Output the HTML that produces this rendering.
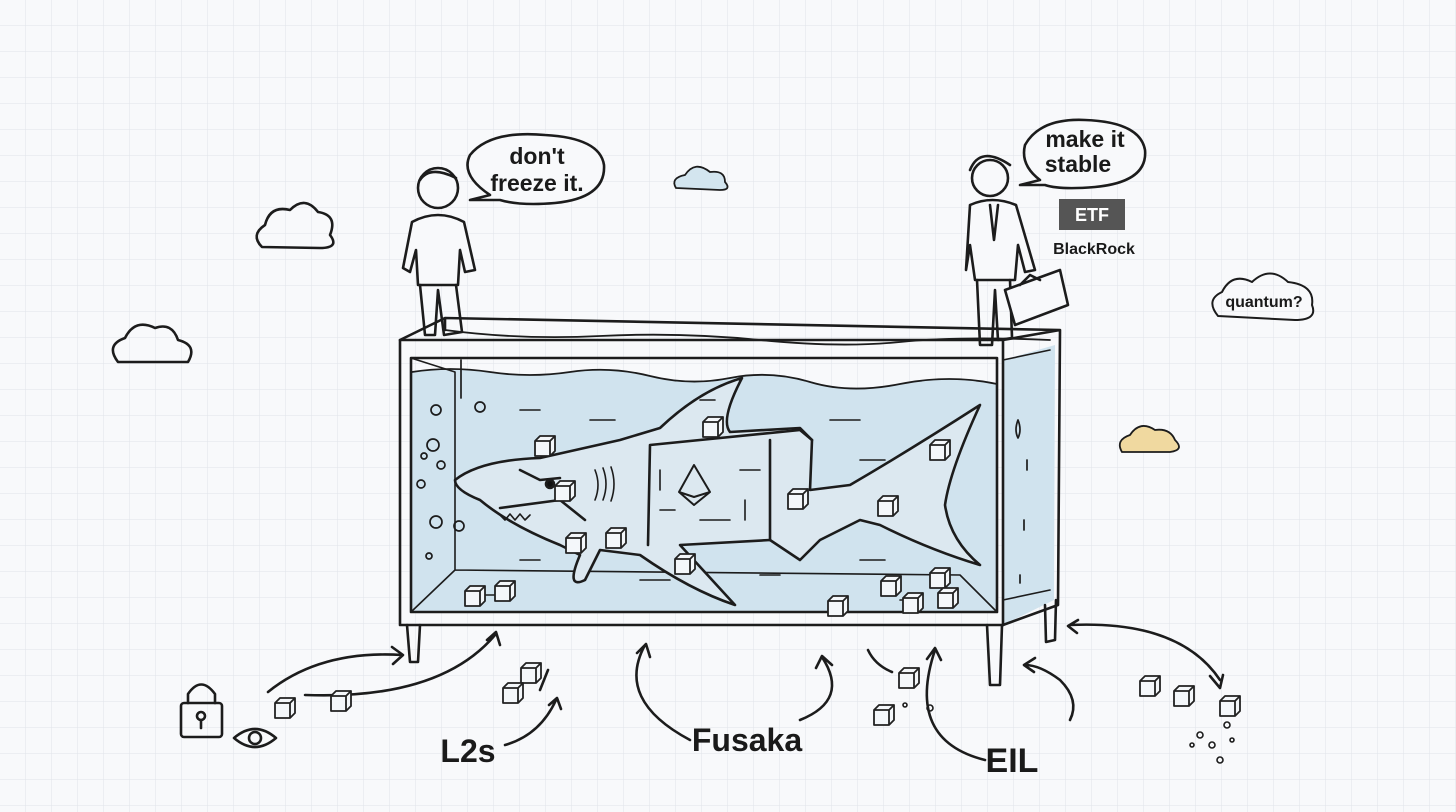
<!DOCTYPE html>
<html><head><meta charset="utf-8"><style>
html,body{margin:0;padding:0;background:#f8f9fb}
svg{display:block}
text{font-family:"Liberation Sans",sans-serif;fill:#1a1a1a}
</style></head><body>
<svg width="1456" height="812" viewBox="0 0 1456 812" xmlns="http://www.w3.org/2000/svg">
<defs>
<pattern id="g" width="26" height="26" patternUnits="userSpaceOnUse">
<path d="M26 0V26M0 26H26" stroke="#e0e4ea" stroke-width="1" fill="none"/>
</pattern>
<g id="cube"><path d="M0 5 L5 0 H20 V15 L15 20 H0 Z M0 5 H15 V20 M15 5 L20 0" fill="#f4f7fa" stroke="#222" stroke-width="1.8" stroke-linejoin="round"/></g>
</defs>
<rect width="1456" height="812" fill="#f8f9fb"/>
<rect width="1456" height="812" fill="url(#g)"/>
<g fill="none" stroke="#1c1c1c" stroke-width="2.6" stroke-linecap="round" stroke-linejoin="round">
<path d="M412 372 Q450 366 490 372 T570 372 T650 376 T730 378 T810 382 T900 384 T997 384 L997 612 L412 612 Z" fill="#d0e3ee" stroke="none"/>
<path d="M1003 360 L1055 345 L1054 600 L1003 625 Z" fill="#d0e3ee" stroke="none"/>
<rect x="400" y="340" width="603" height="285"/>
<rect x="411" y="358" width="586" height="254"/>
<path d="M400 340 L445 318 L1060 330 L1003 340 M1060 330 L1058 605 L1003 625 M445 318 L445 330"/>
<path d="M445 330 Q520 340 600 336 T760 340 T900 342 T1050 340" stroke-width="1.8"/>
<path d="M411 358 L455 372 L455 570 L411 612 M455 570 L960 575 L997 612 M1003 360 L1050 350 M1003 600 L1050 590" stroke-width="1.6"/>
<path d="M412 372 Q450 366 490 372 T570 372 T650 376 T730 378 T810 382 T900 384 T997 384" stroke-width="1.8"/>
<path d="M407 625 L410 662 L418 662 L420 625 M987 625 L990 685 L1000 685 L1002 625 M1045 605 L1046 642 L1055 640 L1056 600"/>
<g stroke-width="1.7"><circle cx="436" cy="410" r="5"/><circle cx="433" cy="445" r="6"/><circle cx="424" cy="456" r="3"/><circle cx="441" cy="465" r="4"/><circle cx="421" cy="484" r="4"/><circle cx="436" cy="522" r="6"/><circle cx="429" cy="556" r="3"/><circle cx="459" cy="526" r="5"/><circle cx="480" cy="407" r="5"/><path d="M461 360 V398"/><path d="M1018 420 q4 10 0 18 q-4 -8 0 -18 M1027 460 v10 M1024 520 v10 M1020 575 v8"/></g>
<path d="M455 480 Q480 460 540 458 L620 440 L660 428 Q700 390 742 378 Q720 420 730 432 L800 428 L812 440 L810 490 L850 485 Q910 450 980 405 Q950 470 945 505 Q950 540 980 565 Q930 550 880 525 L860 520 L820 540 L800 560 L770 540 L680 545 L735 605 Q690 590 640 555 L600 550 L585 580 Q565 590 580 555 L560 545 Q510 525 480 500 Q455 490 455 480 Z" fill="#dce8f0"/>
<path d="M650 445 L800 430 L812 440 M650 445 L648 545 M770 540 L770 440 M500 508 L560 500 L585 520 M520 470 L540 480 L560 478"/>
<path d="M694 465 L710 492 L694 505 L679 492 Z M679 492 L694 497 L710 492" stroke-width="2"/>
<circle cx="550" cy="484" r="4" fill="#111"/>
<g stroke-width="1.6"><path d="M595 470 q6 15 0 30 M603 468 q6 16 0 32 M611 467 q6 17 0 34"/><path d="M500 515 l5 5 l5 -6 l5 6 l5 -6 l5 6 l5 -5"/>
<path d="M520 410 h20 M590 420 h25 M700 400 h15 M830 420 h30 M860 460 h25 M520 560 h20 M640 580 h30 M860 560 h25 M900 600 h20 M480 595 h30 M760 575 h20 M660 470 v20 M660 510 h15 M740 470 h20 M745 500 v20 M700 520 h30"/></g>
<g><use href="#cube" x="535" y="436"/><use href="#cube" x="703" y="417"/><use href="#cube" x="555" y="481"/><use href="#cube" x="788" y="489"/><use href="#cube" x="878" y="496"/><use href="#cube" x="930" y="440"/><use href="#cube" x="566" y="533"/><use href="#cube" x="606" y="528"/><use href="#cube" x="675" y="554"/><use href="#cube" x="465" y="586"/><use href="#cube" x="495" y="581"/><use href="#cube" x="828" y="596"/><use href="#cube" x="881" y="576"/><use href="#cube" x="903" y="593"/><use href="#cube" x="930" y="568"/><use href="#cube" x="938" y="588"/></g>
<path d="M268 692 Q320 650 402 655 M392 647 L403 655 L393 664"/>
<path d="M305 695 Q440 700 495 635 M487 640 L496 632 L500 645"/>
<path d="M505 745 Q540 735 556 700 M549 705 L557 698 L561 709"/>
<path d="M540 690 L548 670"/>
<path d="M690 740 Q615 700 645 645 M637 653 L646 644 L650 657"/>
<path d="M800 720 Q850 700 822 657 M816 668 L822 656 L832 665"/>
<path d="M868 650 Q875 665 892 672"/>
<path d="M985 760 Q905 740 935 650 M927 659 L935 648 L941 660"/>
<path d="M1070 720 Q1080 700 1060 680 Q1040 665 1025 665 M1035 658 L1024 665 L1034 672"/>
<path d="M1070 625 Q1180 620 1220 680 M1210 676 L1220 688 L1223 675 M1078 620 L1068 626 L1077 633"/>
<use href="#cube" x="275" y="698"/><use href="#cube" x="331" y="691"/><use href="#cube" x="521" y="663"/><use href="#cube" x="503" y="683"/><use href="#cube" x="899" y="668"/><use href="#cube" x="874" y="705"/><use href="#cube" x="1140" y="676"/><use href="#cube" x="1174" y="686"/><use href="#cube" x="1220" y="696"/>
<g stroke-width="1.6"><circle cx="930" cy="708" r="3"/><circle cx="905" cy="705" r="2"/><circle cx="1200" cy="735" r="3"/><circle cx="1212" cy="745" r="3"/><circle cx="1192" cy="745" r="2"/><circle cx="1220" cy="760" r="3"/><circle cx="1232" cy="740" r="2"/><circle cx="1227" cy="725" r="3"/></g>
<rect x="181" y="703" width="41" height="34" rx="3"/><path d="M188 703 V694 Q201 675 215 694 V703"/><circle cx="201" cy="716" r="4"/><path d="M201 720 v8"/>
<path d="M234 738 Q255 720 276 738 Q255 756 234 738 Z"/><circle cx="255" cy="738" r="6"/>
<path d="M262 247 Q250 235 265 225 Q270 205 290 210 Q305 195 318 212 Q338 215 330 235 Q340 248 320 248 Z"/>
<path d="M118 362 Q105 345 125 338 Q135 318 155 328 Q172 322 178 340 Q198 345 188 362 Z"/>
<path d="M676 188 Q670 178 685 175 Q695 160 710 172 Q725 170 725 182 Q732 190 720 190 Z" fill="#d3e5ef" stroke-width="1.8"/>
<path d="M1122 452 Q1115 440 1130 435 Q1140 420 1155 430 Q1170 428 1175 440 Q1185 450 1170 452 Z" fill="#f0d9a0" stroke-width="1.8"/>
<path d="M1218 316 Q1205 300 1222 292 Q1232 272 1252 282 Q1270 265 1288 282 Q1315 285 1312 305 Q1318 320 1295 320 Z" stroke-width="2"/>
<path d="M490 195 Q460 175 470 155 Q490 130 545 135 Q600 138 604 165 Q606 198 555 203 Q520 206 500 200 L470 200 Z" fill="#f8f9fb"/>
<path d="M1040 180 Q1020 165 1025 145 Q1040 118 1085 120 Q1140 122 1145 150 Q1148 182 1095 187 Q1060 190 1045 185 L1020 185 Z" fill="#f8f9fb"/>
<circle cx="438" cy="188" r="20" fill="#f8f9fb"/>
<path d="M420 180 Q430 165 456 178" />
<path d="M412 222 Q438 208 464 222 L475 270 L465 272 L460 250 L458 285 L418 285 L416 250 L410 272 L403 268 Z" fill="#f8f9fb"/>
<path d="M420 285 L425 335 L435 335 L438 290 L444 335 L462 332 L456 285"/>
<circle cx="990" cy="178" r="18" fill="#f8f9fb"/>
<path d="M970 170 Q980 145 1010 165"/>
<path d="M970 205 Q992 195 1016 205 L1035 270 L1025 272 L1018 245 L1015 280 L975 280 L970 245 L966 270 Z" fill="#f8f9fb"/>
<path d="M990 205 L994 240 L998 205"/>
<path d="M977 280 L980 345 L992 345 L995 290 L998 340 L1012 338 L1010 280"/>
<path d="M1005 290 L1060 270 L1068 305 L1015 325 Z M1020 285 L1030 275 L1040 280" fill="#f8f9fb"/>
</g>
<rect x="1059" y="199" width="66" height="31" fill="#555"/>
<text x="1092" y="221" font-size="18" font-weight="bold" style="fill:#fff" text-anchor="middle">ETF</text>
<text x="1094" y="254" font-size="16" font-weight="bold" text-anchor="middle">BlackRock</text>
<text x="537" y="164" font-size="23" font-weight="bold" text-anchor="middle">don't</text>
<text x="537" y="191" font-size="23" font-weight="bold" text-anchor="middle">freeze it.</text>
<text x="1085" y="147" font-size="23" font-weight="bold" text-anchor="middle">make it</text>
<text x="1078" y="172" font-size="23" font-weight="bold" text-anchor="middle">stable</text>
<text x="1264" y="307" font-size="16" font-weight="bold" text-anchor="middle">quantum?</text>
<text x="468" y="762" font-size="32" font-weight="bold" text-anchor="middle">L2s</text>
<text x="747" y="751" font-size="32" font-weight="bold" text-anchor="middle">Fusaka</text>
<text x="1012" y="772" font-size="34" font-weight="bold" text-anchor="middle">EIL</text>
</svg>
</body></html>
